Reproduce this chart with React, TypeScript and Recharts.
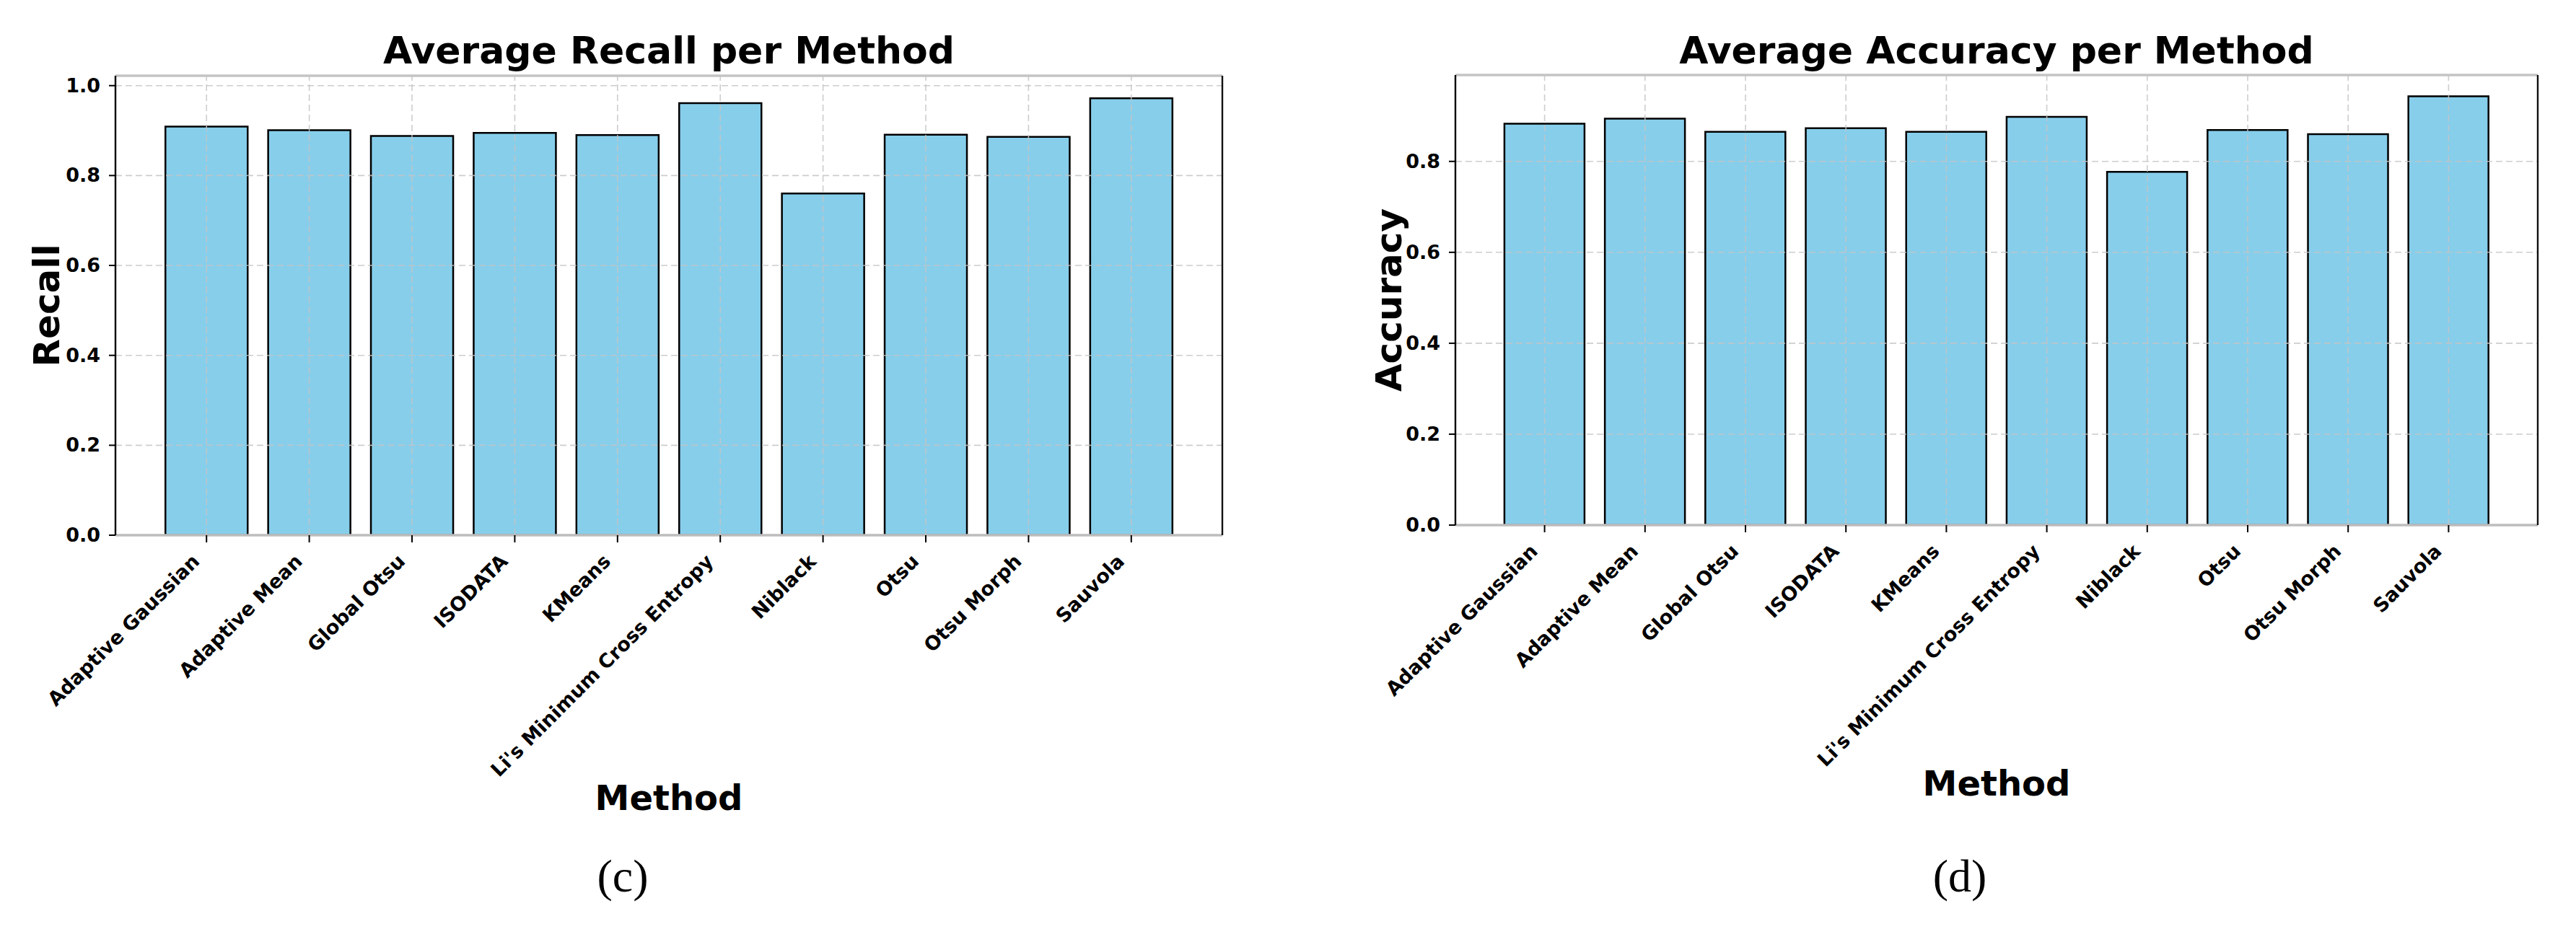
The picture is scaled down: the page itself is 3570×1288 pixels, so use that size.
import React from 'react';
import { BarChart, Bar, XAxis, YAxis, ReferenceLine } from 'recharts';

// data
const methods = [
  'Adaptive Gaussian',
  'Adaptive Mean',
  'Global Otsu',
  'ISODATA',
  'KMeans',
  "Li's Minimum Cross Entropy",
  'Niblack',
  'Otsu',
  'Otsu Morph',
  'Sauvola',
];
const recall = [0.909, 0.901, 0.888, 0.895, 0.89, 0.961, 0.76, 0.891, 0.886, 0.972];
const accuracy = [0.883, 0.894, 0.865, 0.873, 0.865, 0.898, 0.777, 0.869, 0.86, 0.943];
const recallTicks = [0, 0.2, 0.4, 0.6, 0.8, 1.0];
const accuracyTicks = [0, 0.2, 0.4, 0.6, 0.8];

const FONT = '"DejaVu Sans", sans-serif';
const TICK_FS = 27;
const GRID = { stroke: '#c4c4c4', strokeOpacity: 0.85, strokeWidth: 1.6, strokeDasharray: '9 5' };

const CatTick = (props: any) => {
  const { x, y, payload } = props;
  return (
    <g transform={`translate(${x - 8},${y + 28})`}>
      <text
        x={0}
        y={0}
        textAnchor="end"
        transform="rotate(-45)"
        fontFamily={FONT}
        fontWeight="bold"
        fontSize={TICK_FS}
        fill="#000"
      >
        {payload.value}
      </text>
    </g>
  );
};

const ValTick = (props: any) => {
  const { x, y, payload } = props;
  return (
    <text
      x={x}
      y={y}
      dy={9}
      textAnchor="end"
      fontFamily={FONT}
      fontWeight="bold"
      fontSize={TICK_FS}
      fill="#000"
    >
      {Number(payload.value).toFixed(1)}
    </text>
  );
};

interface PanelProps {
  left: number;
  title: string;
  yLabel: string;
  values: number[];
  ticks: number[];
  yMax: number;
  plotLeft: number;
  plotRight: number;
  plotTop: number;
  plotBottom: number;
  yLabelX: number;
  caption: string;
  captionX: number;
  xLabelBase: number;
}

function Panel(p: PanelProps) {
  const W = 1785;
  const H = 1288;
  const yAxisW = 100;
  const rightAxisW = 2;
  const xAxisH = 300;
  const data = methods.map((m, i) => ({ name: m, value: p.values[i] }));
  const plotW = p.plotRight - p.plotLeft;
  const unit = plotW / 10.78;
  const pad = Math.round(unit * 0.39);
  const centerX = (p.plotLeft + p.plotRight) / 2;
  const centerY = (p.plotTop + p.plotBottom) / 2;
  return (
    <div style={{ position: 'absolute', left: p.left, top: 0, width: W, height: H }}>
      <BarChart
        width={W}
        height={H}
        data={data}
        margin={{
          top: p.plotTop,
          right: W - p.plotRight - rightAxisW,
          left: p.plotLeft - yAxisW,
          bottom: H - p.plotBottom - xAxisH,
        }}
        barCategoryGap="10%"
      >
        <XAxis
          dataKey="name"
          type="category"
          interval={0}
          height={xAxisH}
          padding={{ left: pad, right: pad }}
          tick={<CatTick />}
          tickSize={10}
          tickMargin={0}
          tickLine={{ stroke: '#000', strokeWidth: 2 }}
          axisLine={{ stroke: '#bdbdbd', strokeWidth: 3.5 }}
        />
        <YAxis
          type="number"
          domain={[0, p.yMax]}
          ticks={p.ticks}
          width={yAxisW}
          tick={<ValTick />}
          tickSize={9}
          tickMargin={12}
          tickLine={{ stroke: '#000', strokeWidth: 2 }}
          axisLine={{ stroke: '#000', strokeWidth: 2.4 }}
          allowDataOverflow
        />
        <YAxis
          yAxisId="right"
          orientation="right"
          type="number"
          domain={[0, p.yMax]}
          width={rightAxisW}
          tick={false}
          tickLine={false}
          axisLine={{ stroke: '#111', strokeWidth: 2.4 }}
        />
        <Bar
          dataKey="value"
          fill="#87CEEB"
          stroke="#000"
          strokeWidth={2.5}
          isAnimationActive={false}
        />
        {/* dashed grid drawn over the bars, as in the source figure */}
        {p.ticks
          .filter((t) => t > 0)
          .map((t) => (
            <ReferenceLine key={`h${t}`} y={t} {...GRID} />
          ))}
        {methods.map((m) => (
          <ReferenceLine key={`v${m}`} x={m} {...GRID} />
        ))}
        {/* light top spine */}
        <ReferenceLine y={p.yMax} stroke="#c4c4c4" strokeWidth={3.5} />
      </BarChart>
      <svg
        width={W}
        height={H}
        style={{ position: 'absolute', left: 0, top: 0, pointerEvents: 'none' }}
      >
        <text
          x={centerX}
          y={88}
          textAnchor="middle"
          fontFamily={FONT}
          fontWeight="bold"
          fontSize={52}
          fill="#000"
        >
          {p.title}
        </text>
        <text
          x={centerX}
          y={p.xLabelBase}
          textAnchor="middle"
          fontFamily={FONT}
          fontWeight="bold"
          fontSize={48}
          fill="#000"
        >
          Method
        </text>
        <text
          x={p.yLabelX}
          y={centerY}
          textAnchor="middle"
          transform={`rotate(-90, ${p.yLabelX}, ${centerY})`}
          fontFamily={FONT}
          fontWeight="bold"
          fontSize={50}
          fill="#000"
        >
          {p.yLabel}
        </text>
        <text
          x={p.captionX}
          y={1236}
          textAnchor="middle"
          fontFamily='"Liberation Serif", serif'
          fontSize={64}
          fill="#000"
        >
          {p.caption}
        </text>
      </svg>
    </div>
  );
}

export default function App() {
  return (
    <div
      style={{
        position: 'absolute',
        left: 0,
        top: 0,
        width: 3570,
        height: 1288,
        background: '#fff',
        overflow: 'hidden',
      }}
    >
      <Panel
        left={0}
        title="Average Recall per Method"
        yLabel="Recall"
        values={recall}
        ticks={recallTicks}
        yMax={1.022}
        plotLeft={160}
        plotRight={1694}
        plotTop={105}
        plotBottom={742}
        yLabelX={82}
        caption="(c)"
        captionX={863}
        xLabelBase={1123}
      />
      <Panel
        left={1785}
        title="Average Accuracy per Method"
        yLabel="Accuracy"
        values={accuracy}
        ticks={accuracyTicks}
        yMax={0.99}
        plotLeft={2017 - 1785}
        plotRight={3517 - 1785}
        plotTop={104}
        plotBottom={728}
        yLabelX={1942 - 1785}
        caption="(d)"
        captionX={2716 - 1785}
        xLabelBase={1103}
      />
    </div>
  );
}
